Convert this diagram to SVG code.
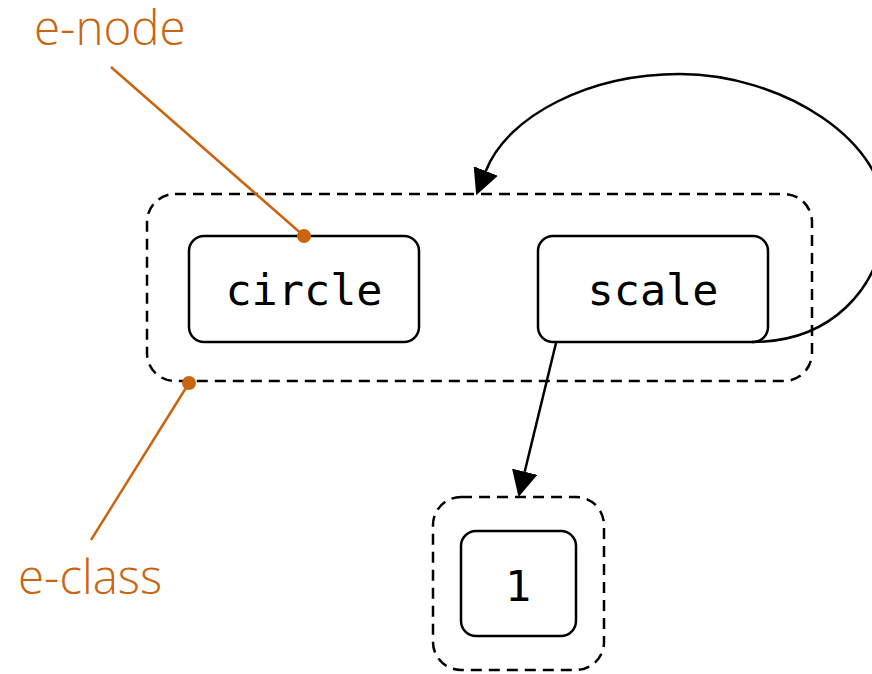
<svg xmlns="http://www.w3.org/2000/svg" width="872" height="674" viewBox="0 0 872 674">
<style>
.eclass{fill:none;stroke:#000;stroke-width:2.5;stroke-dasharray:11 7}
.enode{fill:#fff;stroke:#000;stroke-width:2.5}
.lbl{font-family:"DejaVu Sans Mono",monospace;font-size:43.5px;fill:#000;text-anchor:middle}
.edge{fill:none;stroke:#000;stroke-width:2.5}
.ann{fill:#c9650f;font-family:"Open Sans",sans-serif;font-weight:300;font-size:47.5px}
.annline{stroke:#c9650f;stroke-width:2.5;fill:none}
</style>
<defs>
<marker id="arr" markerUnits="userSpaceOnUse" markerWidth="26" markerHeight="26" viewBox="0 0 24 24" refX="0" refY="12" orient="auto">
<path d="M0,0 L24,12 L0,24 z" fill="#000"/>
</marker>
</defs>
<g id="eclass-top"><rect class="eclass" x="147" y="194" width="665" height="187" rx="28"/></g>
<g id="eclass-one"><rect class="eclass" x="433" y="497" width="171" height="173" rx="28"/></g>
<g id="node-circle"><rect class="enode" x="189" y="236" width="230" height="106" rx="15"/><text class="lbl" x="304" y="305">circle</text></g>
<g id="node-scale"><rect class="enode" x="538" y="236" width="230" height="106" rx="15"/><text class="lbl" x="653" y="305">scale</text></g>
<g id="node-one"><rect class="enode" x="461" y="531" width="115" height="105" rx="15"/><text class="lbl" x="518" y="601">1</text></g>
<g id="connectors">
<path class="edge" d="M556 343 L524.7 471.7" marker-end="url(#arr)"/>
<path class="edge" d="M752 342 C830 342,880 290,885 222 C890 140,780 74,680 74 C590 74,508 115,485.8 171" marker-end="url(#arr)"/>
</g>
<g id="annotations">
<text class="ann" x="34" y="45">e-node</text>
<line class="annline" x1="111" y1="67" x2="304" y2="236"/>
<circle cx="304" cy="236" r="7" fill="#c9650f"/>
<text class="ann" x="18" y="594">e-class</text>
<line class="annline" x1="91" y1="540" x2="189" y2="383"/>
<circle cx="189" cy="383" r="7" fill="#c9650f"/>
</g>
</svg>
